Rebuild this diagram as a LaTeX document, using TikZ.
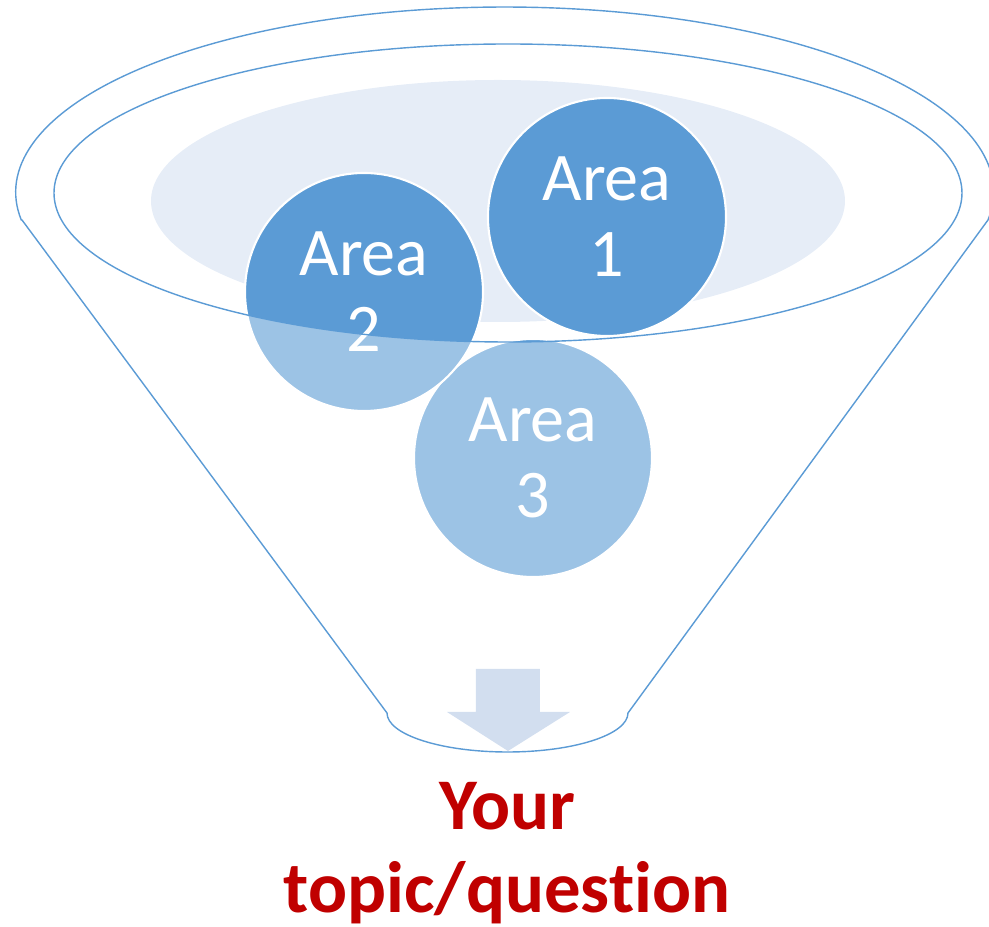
\documentclass[tikz,border=0pt]{standalone}
\usepackage{fontspec}
\setmainfont{Carlito}[Ligatures={NoCommon,NoRare,NoDiscretionary}]
\definecolor{areablue}{HTML}{5B9BD5}
\definecolor{rimfill}{HTML}{E6EDF7}
\definecolor{arrowblue}{HTML}{D2DEEF}
\definecolor{topicred}{HTML}{C00000}
\begin{document}
\begin{tikzpicture}[
	area/.style={circle, fill=areablue, draw=white, line width=0.6pt, minimum size=2.38cm, inner sep=0pt, text=white, align=center, font=\fontsize{19.4}{21.6}\selectfont},
	funnel/.style={draw=areablue, line width=0.4pt}]
		\useasboundingbox (0,0) rectangle (9.89,-9.27);
		\fill[rimfill] (4.98,-2.01) ellipse [x radius=3.47, y radius=1.21];
		\node[area] (area3) at (5.33,-4.58) {Area\\3};
		\node[area] (area1) at (6.07,-2.17) {Area\\1};
		\node[area] (area2) at (3.64,-2.92) {Area\\2};
		\path[funnel, fill=white, fill opacity=0.4, even odd rule] (0.22,-2.20) -- (3.87,-7.13) arc[start angle=180, end angle=360, x radius=1.205, y radius=0.39] -- (9.88,-2.20) arc[start angle=-8.7, end angle=188.7, x radius=4.89, y radius=1.85] -- cycle (5.08,-1.93) ellipse [x radius=4.54, y radius=1.49];
		\fill[arrowblue] (4.76,-6.69) -- (5.40,-6.69) -- (5.40,-7.12) -- (5.70,-7.12) -- (5.08,-7.51) -- (4.47,-7.12) -- (4.76,-7.12) -- cycle;
		\node[anchor=north, inner sep=0pt, align=center, text=topicred, font=\bfseries\fontsize{20.7}{23.6}\selectfont] (question) at (5.07,-7.82) {Your\\topic/question};
\end{tikzpicture}
\end{document}
